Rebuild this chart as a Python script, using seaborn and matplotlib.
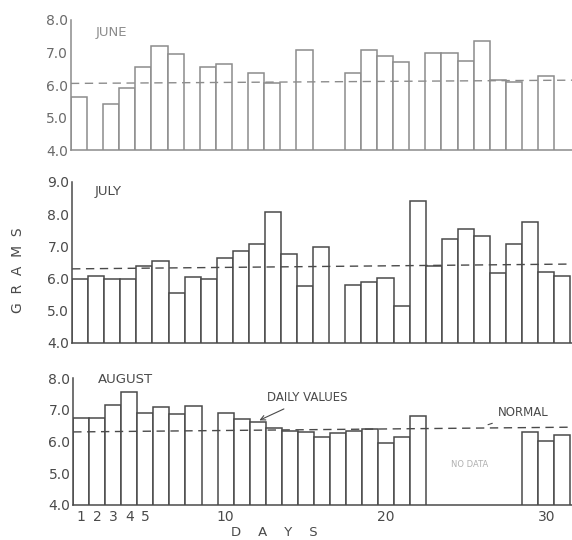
import numpy as np
import pandas as pd
import seaborn as sns
import matplotlib.pyplot as plt

nan = np.nan
days = list(range(1, 32))

june = [5.63, nan, 5.42, 5.9, 6.55, 7.2, 6.95, nan, 6.55, 6.65, nan, 6.38, 6.05, nan, 7.08, nan,
        nan, 6.38, 7.08, 6.9, 6.7, nan, 6.97, 7.0, 6.75, 7.36, 6.15, 6.1, nan, 6.28, nan]
july = [6.0, 6.08, 6.0, 6.0, 6.38, 6.55, 5.55, 6.05, 6.0, 6.63, 6.85, 7.08, 8.07, 6.75, 5.78, 6.98,
        nan, 5.8, 5.9, 6.02, 5.15, 8.4, 6.4, 7.23, 7.53, 7.33, 6.18, 7.08, 7.77, 6.2, 6.07]
august = [6.75, 6.75, 7.15, 7.57, 6.9, 7.1, 6.85, 7.12, nan, 6.9, 6.72, 6.62, 6.42, 6.34, 6.31, 6.14,
          6.27, 6.33, 6.39, 5.96, 6.15, 6.8, nan, nan, nan, nan, nan, nan, 6.3, 6.0, 6.2]

# normal curve: value at start and end of month
normal_june = [6.05, 6.15]
normal_july = [6.3, 6.45]
normal_august = [6.3, 6.45]

months = ['JUNE', 'JULY', 'AUGUST']
y_tops = [8, 9, 8]
x_ticks = [1, 2, 3, 4, 5, 10, 20, 30]

df = pd.DataFrame({
    'month': np.repeat(months, len(days)),
    'day': days * 3,
    'grams': june + july + august,
}).dropna()

sns.set_style('white')
plt.rcParams['font.family'] = ['DejaVu Sans']

fig = plt.figure(figsize=(5.72, 5.4), dpi=100)

rects = [[0.124, 0.722, 0.876, 0.241],
         [0.126, 0.365, 0.874, 0.298],
         [0.128, 0.065, 0.872, 0.235]]
colors = ['#8c8c8c', '#4a4a4a', '#4a4a4a']
normals = [normal_june, normal_july, normal_august]
label_pos = [(0.05, 0.90), (0.046, 0.94), (0.05, 0.99)]

axes = []
for i, m in enumerate(months):
    ax = fig.add_axes(rects[i])
    c = colors[i]
    sub = df[df['month'] == m]
    sns.barplot(data=sub, x='day', y='grams', native_scale=True, width=1,
                color='white', edgecolor=c, linewidth=1.1, errorbar=None, ax=ax)
    ax.plot([0.5, 31.6], normals[i], ls=(0, (6, 4)), color=c, lw=1.0, zorder=3)
    ax.set_xlim(0.5, 31.6)
    ax.set_ylim(4, y_tops[i])
    ax.set_yticks(np.arange(4, y_tops[i] + 1))
    ax.set_yticklabels([f'{v:.1f}' for v in np.arange(4, y_tops[i] + 1)])
    ax.set_xlabel('')
    ax.set_ylabel('')
    sns.despine(ax=ax)
    for s in ['left', 'bottom']:
        ax.spines[s].set_color(c)
        ax.spines[s].set_linewidth(1.1)
    ax.tick_params(axis='y', direction='in', length=6, width=1, color=c,
                   labelsize=10, labelcolor='#6a6a6a' if i == 0 else '#4a4a4a', pad=2)
    ax.text(label_pos[i][0], label_pos[i][1], m, transform=ax.transAxes,
            fontsize=9.5, color=c, va='center')
    if i < 2:
        ax.set_xticks([])
    else:
        ax.set_xticks(x_ticks)
        ax.set_xticklabels([str(d) for d in x_ticks])
        ax.tick_params(axis='x', length=0, labelsize=10, labelcolor='#4a4a4a', pad=4)
    axes.append(ax)

ax = axes[2]
ax.annotate('DAILY VALUES', xy=(11.95, 6.63), xytext=(12.6, 7.37),
            fontsize=8.5, color='#4a4a4a', ha='left', va='center',
            arrowprops=dict(arrowstyle='->', color='#4a4a4a', lw=0.8))
ax.annotate('NORMAL', xy=(26.2, 6.5), xytext=(27.0, 6.9),
            fontsize=8.5, color='#4a4a4a', ha='left', va='center',
            arrowprops=dict(arrowstyle='-', color='#4a4a4a', lw=0.8))
ax.text(25.2, 5.26, 'NO DATA', fontsize=6, color='#b0b0b0', ha='center', va='center')

fig.text(0.032, 0.50, 'G  R  A  M  S', rotation=90, fontsize=10, color='#4a4a4a',
         ha='center', va='center')
fig.text(0.48, 0.014, 'D    A    Y    S', fontsize=9.5, color='#4a4a4a',
         ha='center', va='center')

fig.savefig('out.png', dpi=100)
